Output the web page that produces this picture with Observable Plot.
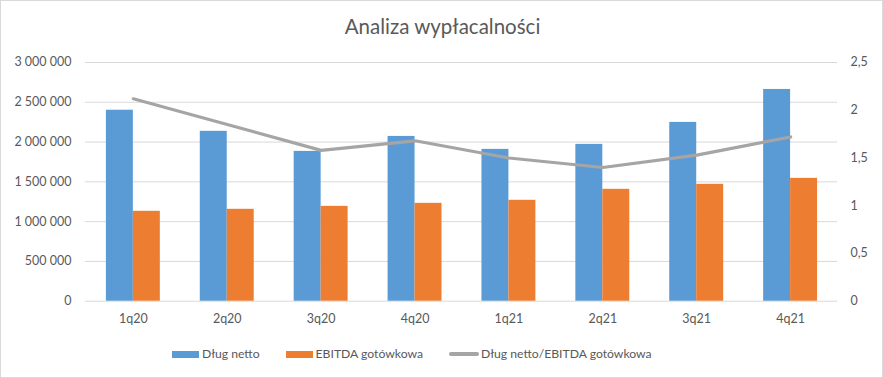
<!DOCTYPE html>
<html>
<head>
<meta charset="utf-8">
<script src="https://cdn.jsdelivr.net/npm/d3@7"></script>
<script src="https://cdn.jsdelivr.net/npm/@observablehq/plot@0.6"></script>
<style>
  html, body { margin: 0; padding: 0; background: #fff; }
  #wrap { position: relative; width: 883px; height: 378px; box-sizing: border-box; border: 1px solid #d9d9d9; overflow: hidden; font-family: Lato, "Open Sans", sans-serif; color: #595959; }
  #title { position: absolute; left: 0; top: 13px; width: 883px; text-align: center; font-size: 20.5px; line-height: 24px; color: #595959; }
  #chart { position: absolute; left: -1px; top: 49px; }
  #legend { position: absolute; left: 171px; top: 345px; display: flex; align-items: center; font-size: 12.2px; color: #595959; line-height: 16px; }
  .item { display: flex; align-items: center; margin-right: 26px; }
  .sw { width: 27px; height: 7px; margin-right: 3px; }
  .ln { width: 30px; height: 4px; border-radius: 2px; margin-right: 2px; }
</style>
</head>
<body>
<div id="wrap">
  <div id="title">Analiza wypłacalności</div>
  <div id="chart"></div>
  <div id="legend"></div>
</div>
<script>
const quarters = ["1q20", "2q20", "3q20", "4q20", "1q21", "2q21", "3q21", "4q21"];
const dlugNetto = [2400000, 2135000, 1883000, 2071000, 1908000, 1971000, 2247000, 2661000];
const ebitdaGotowkowa = [1130000, 1155000, 1192000, 1230000, 1268000, 1406000, 1469000, 1544000];
const wskaznik = [2.12, 1.85, 1.58, 1.68, 1.50, 1.40, 1.53, 1.72];
const seriesNames = ["Dług netto", "EBITDA gotówkowa", "Dług netto/EBITDA gotówkowa"];
const seriesColors = ["#5b9bd5", "#ed7d31", "#a5a5a5"];
const leftTicks = [0, 500000, 1000000, 1500000, 2000000, 2500000, 3000000];
const leftTickLabels = ["0", "500 000", "1 000 000", "1 500 000", "2 000 000", "2 500 000", "3 000 000"];
const rightTicks = [0, 0.5, 1, 1.5, 2, 2.5];
const rightTickLabels = ["0", "0,5", "1", "1,5", "2", "2,5"];

const leftMax = 3000000, rightMax = 2.5;
const k = leftMax / rightMax;
const table = quarters.map((q, i) => ({q, debt: dlugNetto[i], ebitda: ebitdaGotowkowa[i], ratio: wskaznik[i]}));
const leftMap = new Map(leftTicks.map((t, i) => [t, leftTickLabels[i]]));
const rightPos = rightTicks.map(t => t * k);
const rightMap = new Map(rightPos.map((t, i) => [t, rightTickLabels[i]]));

const W = 883, mL = 85, mR = 45;
const step = (W - mL - mR) / quarters.length;
const bw = 54;
const pInner = 1 - bw / step;

const plot = Plot.plot({
  width: W,
  height: 286,
  marginLeft: mL,
  marginRight: mR,
  marginTop: 12,
  marginBottom: 35,
  style: {fontFamily: "Lato, 'Open Sans', sans-serif", fontSize: "12.5px", color: "#595959", background: "transparent"},
  x: {domain: quarters, paddingInner: pInner, paddingOuter: pInner / 2, label: null},
  y: {domain: [0, leftMax], label: null},
  marks: [
    Plot.ruleY(leftTicks, {stroke: "#d9d9d9", strokeWidth: 1}),
    Plot.barY(table, {x: "q", y: "debt", fill: seriesColors[0], insetRight: bw / 2}),
    Plot.barY(table, {x: "q", y: "ebitda", fill: seriesColors[1], insetLeft: bw / 2}),
    Plot.lineY(table, {x: "q", y: d => d.ratio * k, stroke: seriesColors[2], strokeWidth: 3.2, strokeLinecap: "round", strokeLinejoin: "round"}),
    Plot.axisY(leftTicks, {anchor: "left", tickSize: 0, tickPadding: 14, tickFormat: d => leftMap.get(d), fill: "#595959", label: null}),
    Plot.axisY(rightPos, {anchor: "right", tickSize: 0, tickPadding: 13, tickFormat: d => rightMap.get(d), fill: "#595959", label: null}),
    Plot.axisX({tickSize: 0, tickPadding: 13, fill: "#595959", label: null})
  ]
});
document.getElementById("chart").appendChild(plot);

const legend = document.getElementById("legend");
seriesNames.forEach((name, i) => {
  const item = document.createElement("div");
  item.className = "item";
  const sw = document.createElement("div");
  sw.className = i === 2 ? "ln" : "sw";
  sw.style.background = seriesColors[i];
  const label = document.createElement("span");
  label.textContent = name;
  item.appendChild(sw);
  item.appendChild(label);
  legend.appendChild(item);
});
</script>
</body>
</html>
